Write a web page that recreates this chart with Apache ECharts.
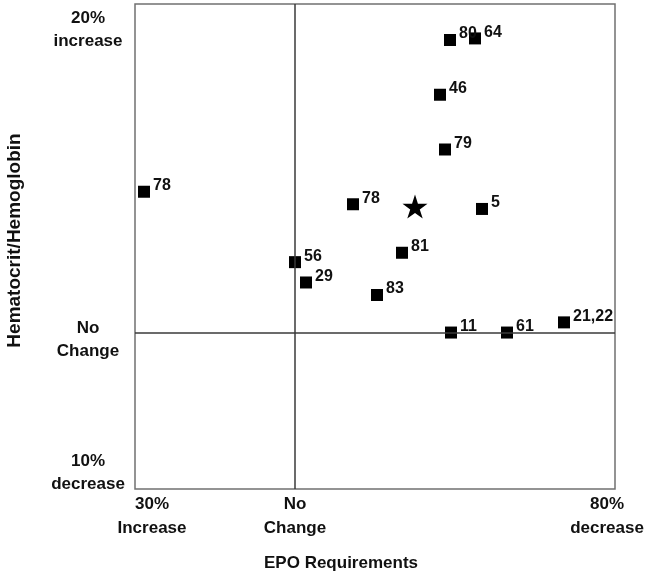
<!DOCTYPE html>
<html>
<head>
<meta charset="utf-8">
<script src="https://cdn.jsdelivr.net/npm/echarts@6/dist/echarts.min.js"></script>
<style>
html,body{margin:0;padding:0;background:#fff;}
#chart{width:651px;height:579px;}
</style>
</head>
<body>
<div id="chart"></div>
<script>
// Study reference numbers
const studyIds = ['78', '56', '29', '78', '83', '81', '11', '80', '64', '46', '79', '5', '61', '21,22'];
// Change in EPO requirements (negative = increase, positive = decrease)
const epoChange = [-37.75, 0, 2.75, 14.5, 20.5, 26.75, 39, 38.75, 45, 36.25, 37.5, 46.75, 53, 67.25];
// Change in hematocrit/hemoglobin (%)
const hctChange = [9.0, 4.5, 3.2, 8.2, 2.4, 5.1, 0, 18.7, 18.8, 15.2, 11.7, 7.9, 0, 0.65];
// Overall mean (star)
const meanPoint = [30, 8.05];

// Axis tick positions and labels
const xTickValues = [-40, 0, 80];
const xTickLabels = ['30%\nIncrease', 'No\nChange', '80%\ndecrease'];
const yTickValues = [-10, 0, 20];
const yTickLabels = ['10%\ndecrease', 'No\nChange', '20%\nincrease'];

const FONT = 'Liberation Sans';
const chart = echarts.init(document.getElementById('chart'));

const xRich = ['l', 'c', 'r'];
const yPre = ['', '{s14| }\n', '{s20| }\n'];
const yPost = ['\n{s32| }', '', ''];

const option = {
  animation: false,
  grid: {left: 135, right: 36, top: 4, bottom: 90, outerBoundsMode: 'none', containLabel: false,
         show: true, borderColor: '#707070', borderWidth: 1.5},
  xAxis: {
    type: 'value', min: -40, max: 80,
    name: 'EPO Requirements', nameLocation: 'middle', nameGap: 66,
    nameTextStyle: {fontFamily: FONT, fontWeight: 'bold', fontSize: 17, color: '#111', padding: [0, 68, 0, 0]},
    axisLine: {show: false}, axisTick: {show: false}, splitLine: {show: false},
    axisLabel: {
      customValues: xTickValues, margin: 3,
      formatter: function (v) {
        const i = xTickValues.indexOf(v);
        if (i < 0) return '';
        return xTickLabels[i].split('\n').map(s => '{' + xRich[i] + '|' + s + '}').join('\n');
      },
      rich: {
        l: {fontFamily: FONT, fontWeight: 'bold', fontSize: 17, color: '#111', lineHeight: 24, padding: [0, 0, 0, 34]},
        c: {fontFamily: FONT, fontWeight: 'bold', fontSize: 17, color: '#111', lineHeight: 24},
        r: {fontFamily: FONT, fontWeight: 'bold', fontSize: 17, color: '#111', lineHeight: 24, padding: [0, 16, 0, 0]}
      }
    }
  },
  yAxis: {
    type: 'value', min: -10, max: 21,
    name: 'Hematocrit/Hemoglobin', nameLocation: 'middle', nameGap: 111,
    nameTextStyle: {fontFamily: FONT, fontWeight: 'bold', fontSize: 19, color: '#111', padding: [0, 0, 0, 12]},
    axisLine: {show: false}, axisTick: {show: false}, splitLine: {show: false},
    axisLabel: {
      customValues: yTickValues, margin: 47, align: 'center',
      formatter: function (v) {
        const i = yTickValues.indexOf(v);
        if (i < 0) return '';
        return yPre[i] + yTickLabels[i].split('\n').map(s => '{t|' + s + '}').join('\n') + yPost[i];
      },
      rich: {
        t: {fontFamily: FONT, fontWeight: 'bold', fontSize: 17, color: '#111', lineHeight: 23, align: 'center'},
        s14: {lineHeight: 14, fontSize: 1},
        s20: {lineHeight: 20, fontSize: 1},
        s32: {lineHeight: 32, fontSize: 1}
      }
    }
  },
  series: [
    {
      type: 'scatter',
      symbol: 'rect', symbolSize: 12,
      itemStyle: {color: '#000', opacity: 1},
      data: epoChange.map((x, i) => ({value: [x, hctChange[i]], name: studyIds[i]})),
      label: {
        show: true, position: 'right', distance: 3, offset: [0, -6],
        formatter: p => p.name, opacity: 1,
        fontFamily: FONT, fontWeight: 'bold', fontSize: 16, color: '#111'
      },
      markLine: {
        silent: true, symbol: 'none', label: {show: false},
        lineStyle: {color: '#3a3a3a', width: 1.5, type: 'solid', opacity: 1},
        data: [{xAxis: 0}, {yAxis: 0}]
      },
      z: 3
    },
    {
      type: 'scatter',
      symbol: 'path://M50,0 L61.2,34.5 L97.6,34.5 L68.2,55.9 L79.4,90.5 L50,69.1 L20.6,90.5 L31.8,55.9 L2.4,34.5 L38.8,34.5 Z',
      symbolSize: [25, 24],
      itemStyle: {color: '#000', opacity: 1},
      data: [meanPoint],
      z: 4
    }
  ]
};
chart.setOption(option);
</script>
</body>
</html>
